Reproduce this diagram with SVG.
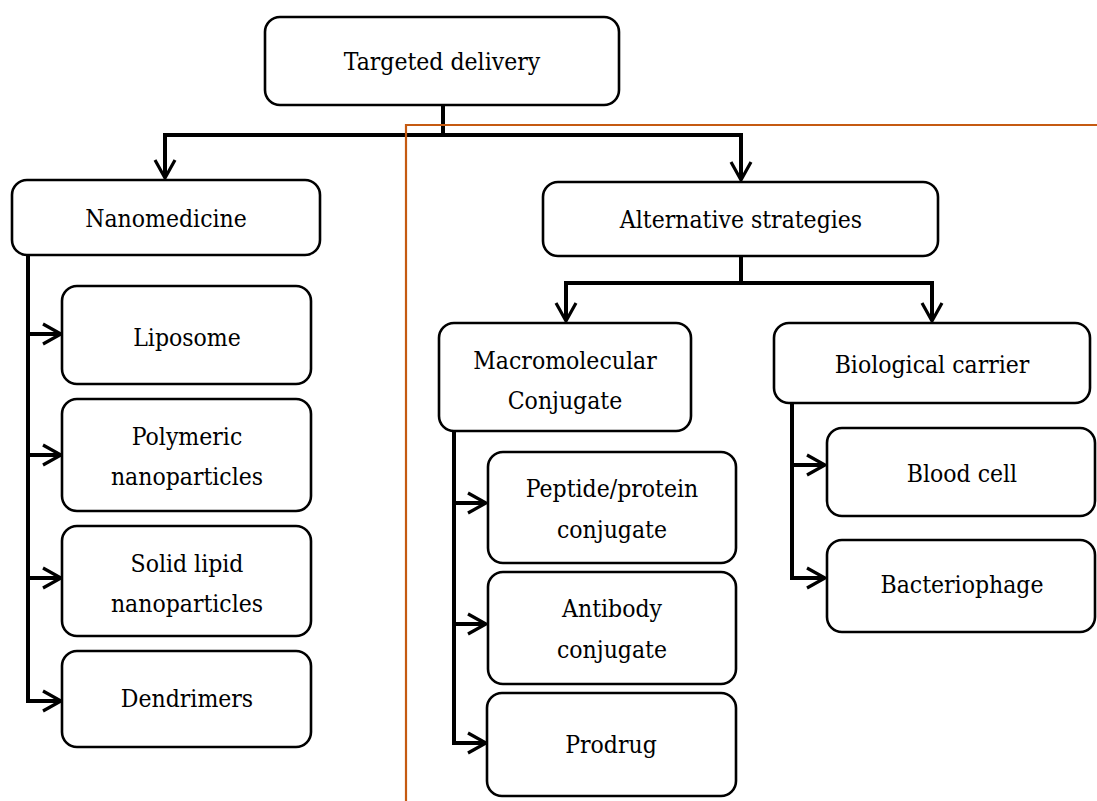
<svg xmlns="http://www.w3.org/2000/svg" width="1097" height="801" viewBox="0 0 1097 801">
<defs>
<style>
.box{fill:#fff;stroke:#000;stroke-width:2.6}
.lbl{font-family:"DejaVu Serif Condensed","DejaVu Serif",serif;font-stretch:condensed;font-size:24.5px;fill:#000;text-anchor:middle}
.con{fill:none;stroke:#000;stroke-width:4}
.head{fill:none;stroke:#000;stroke-width:3.2;stroke-linecap:butt;stroke-linejoin:miter}
</style>
</defs>
<rect width="1097" height="801" fill="#fff"/>
<g id="connectors">
<polyline class="con" points="443,105 443,135"/>
<polyline class="con" points="165,176 165,135 741,135 741,178"/>
<polyline class="con" points="741,256 741,283"/>
<polyline class="con" points="566,319 566,283 932,283 932,319"/>
<polyline class="con" points="28,255 28,701 60,701"/>
<line class="con" x1="28" y1="334" x2="60" y2="334"/>
<line class="con" x1="28" y1="455" x2="60" y2="455"/>
<line class="con" x1="28" y1="578" x2="60" y2="578"/>
<polyline class="con" points="454,431 454,743 485,743"/>
<line class="con" x1="454" y1="503" x2="485" y2="503"/>
<line class="con" x1="454" y1="624" x2="485" y2="624"/>
<polyline class="con" points="792,403 792,578 824,578"/>
<line class="con" x1="792" y1="465" x2="824" y2="465"/>
<path class="head" d="M155,160 L165,178 L175,160"/>
<path class="head" d="M731,162 L741,180 L751,162"/>
<path class="head" d="M556,303 L566,321 L576,303"/>
<path class="head" d="M922,303 L932,321 L942,303"/>
<path class="head" d="M43,324 L61,334 L43,344"/>
<path class="head" d="M43,445 L61,455 L43,465"/>
<path class="head" d="M43,568 L61,578 L43,588"/>
<path class="head" d="M43,691 L61,701 L43,711"/>
<path class="head" d="M468,493 L486,503 L468,513"/>
<path class="head" d="M468,614 L486,624 L468,634"/>
<path class="head" d="M468,733 L486,743 L468,753"/>
<path class="head" d="M807,455 L825,465 L807,475"/>
<path class="head" d="M807,568 L825,578 L807,588"/>
</g>
<g id="divider">
<polyline points="406,801 406,125 1097,125" fill="none" stroke="#C55A11" stroke-width="2.2"/>
</g>
<g id="targeted"><rect class="box" x="265" y="17" width="354" height="88" rx="15"/><text class="lbl" x="442" y="70">Targeted delivery</text></g>
<g id="nanomedicine"><rect class="box" x="12" y="180" width="308" height="75" rx="15"/><text class="lbl" x="166" y="227">Nanomedicine</text></g>
<g id="liposome"><rect class="box" x="62" y="286" width="249" height="98" rx="15"/><text class="lbl" x="187" y="346">Liposome</text></g>
<g id="polymeric"><rect class="box" x="62" y="399" width="249" height="112" rx="15"/><text class="lbl" x="187" y="445">Polymeric</text><text class="lbl" x="187" y="485">nanoparticles</text></g>
<g id="solidlipid"><rect class="box" x="62" y="526" width="249" height="110" rx="15"/><text class="lbl" x="187" y="572">Solid lipid</text><text class="lbl" x="187" y="612">nanoparticles</text></g>
<g id="dendrimers"><rect class="box" x="62" y="651" width="249" height="96" rx="15"/><text class="lbl" x="187" y="707">Dendrimers</text></g>
<g id="alternative"><rect class="box" x="543" y="182" width="395" height="74" rx="15"/><text class="lbl" x="741" y="228">Alternative strategies</text></g>
<g id="macromolecular"><rect class="box" x="439" y="323" width="252" height="108" rx="15"/><text class="lbl" x="565" y="369">Macromolecular</text><text class="lbl" x="565" y="409">Conjugate</text></g>
<g id="biological"><rect class="box" x="774" y="323" width="316" height="80" rx="15"/><text class="lbl" x="932" y="373">Biological carrier</text></g>
<g id="peptide"><rect class="box" x="488" y="452" width="248" height="111" rx="15"/><text class="lbl" x="612" y="497">Peptide/protein</text><text class="lbl" x="612" y="538">conjugate</text></g>
<g id="antibody"><rect class="box" x="488" y="572" width="248" height="112" rx="15"/><text class="lbl" x="612" y="617">Antibody</text><text class="lbl" x="612" y="658">conjugate</text></g>
<g id="prodrug"><rect class="box" x="487" y="693" width="249" height="103" rx="15"/><text class="lbl" x="611" y="753">Prodrug</text></g>
<g id="bloodcell"><rect class="box" x="827" y="428" width="268" height="88" rx="15"/><text class="lbl" x="962" y="482">Blood cell</text></g>
<g id="bacteriophage"><rect class="box" x="827" y="540" width="268" height="92" rx="15"/><text class="lbl" x="962" y="593">Bacteriophage</text></g>
</svg>
